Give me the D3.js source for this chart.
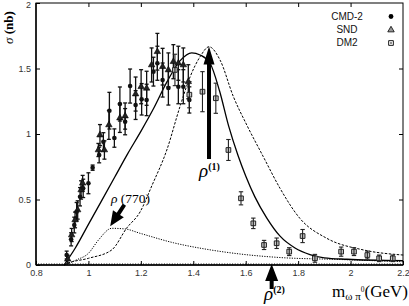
<!DOCTYPE html>
<html><head><meta charset="utf-8">
<script src="https://cdn.jsdelivr.net/npm/d3@7"></script>
<style>body{margin:0;background:#fff}svg{display:block}</style>
</head><body>
<script>
// ---- data ----
const xTicks = [0.8, 1, 1.2, 1.4, 1.6, 1.8, 2, 2.2];
const xTickLabels = ["0.8", "1", "1.2", "1.4", "1.6", "1.8", "2", "2.2"];
const yTicks = [0, 0.5, 1, 1.5, 2];
const yTickLabels = ["0", "0.5", "1", "1.5", "2"];
const legendLabels = ["CMD-2", "SND", "DM2"];

// [m (GeV), sigma (nb), error]
const cmd2 = [
  [0.917,0.076,0.03],[0.934,0.196,0.05],[0.946,0.305,0.06],[0.955,0.407,0.07],
  [0.968,0.521,0.07],[0.980,0.585,0.07],[1.000,0.624,0.08],[1.016,0.743,0.02],
  [1.041,0.840,0.06],[1.057,0.940,0.07],[1.080,1.178,0.14],[1.099,0.969,0.07],
  [1.120,1.229,0.13],[1.140,1.094,0.10],[1.159,1.366,0.13],[1.180,1.221,0.11],
  [1.203,1.265,0.12],[1.222,1.260,0.12],[1.248,1.476,0.11],[1.263,1.540,0.13],
  [1.283,1.412,0.13],[1.305,1.351,0.13],[1.343,1.361,0.13],[1.362,1.361,0.13],
  [1.385,1.260,0.10]
];
const snd = [
  [0.921,0.044,0.03],[0.936,0.229,0.05],[0.949,0.344,0.06],[0.959,0.420,0.07],
  [0.972,0.573,0.07],[0.978,0.624,0.06],[1.038,0.878,0.05],[1.061,0.878,0.07],
  [1.044,0.992,0.08],[1.078,1.069,0.11],[1.120,1.122,0.11],[1.140,1.137,0.10],
  [1.180,1.305,0.13],[1.201,1.361,0.13],[1.222,1.349,0.13],[1.241,1.527,0.13],
  [1.263,1.628,0.14],[1.283,1.514,0.14],[1.305,1.489,0.13],[1.324,1.552,0.13],
  [1.343,1.540,0.13],[1.362,1.527,0.13],[1.381,1.399,0.13]
];
const dm2 = [
  [1.330,1.489,0.12],[1.385,1.300,0.10],[1.435,1.323,0.153],[1.486,1.273,0.115],
  [1.534,0.878,0.08],[1.582,0.509,0.05],[1.629,0.318,0.04],[1.670,0.153,0.035],
  [1.718,0.166,0.04],[1.766,0.102,0.03],[1.817,0.221,0.05],[1.864,0.051,0.03],
  [1.964,0.102,0.035],[2.013,0.102,0.03],[2.064,0.076,0.03],[2.109,0.051,0.025],
  [2.161,0.051,0.025]
];

// model curves [m, sigma]
const solidCurve = [
  [0.907,0],[0.95,0.13],[1.0,0.31],[1.05,0.49],[1.1,0.67],[1.15,0.85],[1.2,1.02],
  [1.25,1.2],[1.3,1.4],[1.35,1.56],[1.394,1.62],[1.426,1.603],
  [1.464,1.54],[1.5,1.33],[1.535,1.06],[1.57,0.84],[1.6,0.68],[1.635,0.52],
  [1.68,0.36],[1.731,0.22],[1.788,0.13],[1.845,0.08],[1.9,0.055],[1.986,0.044],[2.2,0.033]
];
const dashedCurve = [
  [0.907,0],[0.921,0.013],[1.000,0.051],[1.089,0.115],[1.146,0.282],[1.197,0.405],
  [1.243,0.61],[1.299,0.878],[1.349,1.208],[1.388,1.437],[1.426,1.59],[1.460,1.666],
  [1.502,1.565],[1.553,1.285],[1.604,1.069],[1.667,0.827],[1.731,0.585],[1.807,0.355],
  [1.909,0.204],[2.049,0.115],[2.201,0.076]
];
const rho770Curve = [
  [0.907,0],[0.953,0.038],[1.000,0.089],[1.038,0.19],[1.089,0.28],[1.140,0.275],
  [1.197,0.242],[1.324,0.17],[1.451,0.12],[1.578,0.084],[1.731,0.057],[1.960,0.042],
  [2.200,0.025]
];

// ---- layout ----
const W = 409, H = 306;
const x = d3.scaleLinear().domain([0.8, 2.2]).range([36, 403]);
const y = d3.scaleLinear().domain([0, 2]).range([265, 3]);

const svg = d3.select("body").append("svg").attr("width", W).attr("height", H);
const sans = "Liberation Sans, Arial, sans-serif";
const serif = "Liberation Serif, Times New Roman, serif";

// frame
svg.append("rect").attr("x", x(0.8)).attr("y", y(2)).attr("width", x(2.2)-x(0.8)).attr("height", y(0)-y(2))
  .attr("fill", "none").attr("stroke", "#000").attr("stroke-width", 1);

function styleAxis(g) {
  g.select(".domain").remove();
  g.selectAll(".tick line").attr("stroke", "#000");
  g.selectAll("text").attr("font-family", sans).attr("font-size", 9).attr("fill", "#333");
}
// bottom axis
svg.append("g").attr("transform", `translate(0,${y(0)})`)
  .call(d3.axisBottom(x).tickValues(xTicks).tickFormat((d,i)=>xTickLabels[i]).tickSizeInner(-4).tickSizeOuter(0).tickPadding(5))
  .call(styleAxis);
// minor ticks on bottom axis
svg.append("g").selectAll("line").data(d3.range(81, 220).map(v=>v/100)).join("line")
  .attr("x1", d=>x(d)).attr("x2", d=>x(d)).attr("y1", y(0)).attr("y2", y(0)-1.8)
  .attr("stroke", "#000").attr("stroke-width", 0.6);
svg.append("line").attr("x1", x(0.8)).attr("x2", x(2.2)).attr("y1", y(0)).attr("y2", y(0)).attr("stroke","#000").attr("stroke-width",1.6);
// top axis
svg.append("g").attr("transform", `translate(0,${y(2)})`)
  .call(d3.axisTop(x).tickValues(xTicks.slice(1,-1)).tickFormat("").tickSizeInner(-4).tickSizeOuter(0))
  .call(styleAxis);
// left axis
const leftAx = svg.append("g").attr("transform", `translate(${x(0.8)},0)`)
  .call(d3.axisLeft(y).tickValues(yTicks).tickFormat((d,i)=>yTickLabels[i]).tickSizeInner(-4).tickSizeOuter(0).tickPadding(5))
  .call(styleAxis);
leftAx.selectAll(".tick text").filter(d=>d===2).attr("dy","0.72em").attr("y",-1.5);
svg.append("line").attr("x1", x(0.8)).attr("x2", x(0.8)).attr("y1", y(0)).attr("y2", y(2)).attr("stroke","#000").attr("stroke-width",1.4);
// right axis
svg.append("g").attr("transform", `translate(${x(2.2)},0)`)
  .call(d3.axisRight(y).tickValues(yTicks.slice(1,-1)).tickFormat("").tickSizeInner(-4).tickSizeOuter(0))
  .call(styleAxis);

// curves
const line = d3.line().x(d=>x(d[0])).y(d=>y(d[1])).curve(d3.curveMonotoneX);
svg.append("path").attr("d", line(rho770Curve)).attr("fill","none").attr("stroke","#000")
  .attr("stroke-width",1).attr("stroke-dasharray","1.2,1.3");
svg.append("path").attr("d", line(dashedCurve)).attr("fill","none").attr("stroke","#000")
  .attr("stroke-width",1).attr("stroke-dasharray","2.5,1.5");
svg.append("path").attr("d", line(solidCurve)).attr("fill","none").attr("stroke","#000")
  .attr("stroke-width",1.3);

// error bars
function errBars(data, cap, color, sw) {
  const g = svg.append("g").attr("stroke", color).attr("stroke-width", sw).attr("fill","none");
  data.forEach(d => {
    const xx = x(d[0]), y1 = y(d[1]-d[2]), y2 = y(d[1]+d[2]);
    g.append("line").attr("x1",xx).attr("x2",xx).attr("y1",y1).attr("y2",y2);
    g.append("line").attr("x1",xx-cap).attr("x2",xx+cap).attr("y1",y1).attr("y2",y1);
    g.append("line").attr("x1",xx-cap).attr("x2",xx+cap).attr("y1",y2).attr("y2",y2);
  });
}
errBars(cmd2, 2, "#111", 1.3);
errBars(snd, 2, "#111", 1.3);

const tri = d3.symbol().type(d3.symbolTriangle).size(18);
const sq = d3.symbol().type(d3.symbolSquare).size(22);
svg.append("g").selectAll("path").data(snd).join("path")
  .attr("transform", d=>`translate(${x(d[0])},${y(d[1])})`).attr("d", tri())
  .attr("fill","#222").attr("stroke","#000").attr("stroke-width",0.6);
svg.append("g").selectAll("circle").data(cmd2).join("circle")
  .attr("cx", d=>x(d[0])).attr("cy", d=>y(d[1])).attr("r", 2.3).attr("fill","#111");
svg.append("g").selectAll("path").data(dm2).join("path")
  .attr("transform", d=>`translate(${x(d[0])},${y(d[1])})`).attr("d", sq())
  .attr("fill","#c8c8c8").attr("stroke","#222").attr("stroke-width",1);
errBars(dm2, 2.2, "#222", 1.1);

// legend
const lg = svg.append("g");
legendLabels.forEach((t,i)=>{
  lg.append("text").attr("x", 347).attr("y", 20 + i*12.8).attr("text-anchor","middle")
    .attr("font-family", sans).attr("font-size", 10).attr("fill","#111").text(t);
});
lg.append("circle").attr("cx",391).attr("cy",16.5).attr("r",2.4).attr("fill","#000");
lg.append("path").attr("transform","translate(391,30)").attr("d", d3.symbol().type(d3.symbolTriangle).size(18)())
  .attr("fill","#999").attr("stroke","#000").attr("stroke-width",0.8);
lg.append("path").attr("transform","translate(391,43)").attr("d", d3.symbol().type(d3.symbolSquare).size(22)())
  .attr("fill","#fff").attr("stroke","#000").attr("stroke-width",0.9);
lg.append("circle").attr("cx",391).attr("cy",43).attr("r",0.8).attr("fill","#000");

// arrows
function arrow(x0, y0, x1, y1, shaftW, headL, headW) {
  const dx = x1-x0, dy = y1-y0, L = Math.hypot(dx,dy);
  const ux = dx/L, uy = dy/L, nx = -uy, ny = ux;
  const bx = x1 - ux*headL, by = y1 - uy*headL;
  const pts = [
    [x0+nx*shaftW/2, y0+ny*shaftW/2], [bx+nx*shaftW/2, by+ny*shaftW/2],
    [bx+nx*headW/2, by+ny*headW/2], [x1, y1],
    [bx-nx*headW/2, by-ny*headW/2], [bx-nx*shaftW/2, by-ny*shaftW/2],
    [x0-nx*shaftW/2, y0-ny*shaftW/2]
  ];
  svg.append("path").attr("d", "M" + pts.map(p=>p.join(",")).join("L") + "Z").attr("fill","#000");
}
arrow(x(1.46), y(0.81), x(1.46), y(1.668), 4, 18, 11);
arrow(x(1.137), y(0.46), x(1.083), y(0.295), 4, 15, 13);
arrow(x(1.699), 289, x(1.699), y(0)-1, 4, 17, 13);

// annotation texts
svg.append("text").attr("x", 111).attr("y", 203).attr("font-family", serif).attr("font-size", 13.5).attr("fill","#000")
  .html('<tspan font-style="italic">ρ</tspan> (770)');
svg.append("text").attr("x", 199).attr("y", 177).attr("font-family", serif).attr("font-size", 19).attr("fill","#000")
  .html('<tspan font-style="italic">ρ</tspan><tspan font-size="10" font-weight="bold" dy="-7">(1)</tspan>');
svg.append("text").attr("x", 264).attr("y", 300).attr("font-family", serif).attr("font-size", 19).attr("fill","#000")
  .html('<tspan font-style="italic">ρ</tspan><tspan font-size="10" font-weight="bold" dy="-7">(2)</tspan>');

// axis titles
svg.append("text").attr("transform","translate(13,44) rotate(-90)").attr("font-family", serif)
  .attr("font-size", 13).attr("font-weight","bold").attr("fill","#000")
  .html('<tspan font-style="italic" font-weight="normal">σ</tspan> (nb)');
svg.append("text").attr("x", 408).attr("y", 297).attr("text-anchor","end").attr("font-family", serif)
  .attr("font-size", 17).attr("fill","#000")
  .html('m<tspan font-size="11" dy="3">ω π</tspan><tspan font-size="7.5" dy="-8">0</tspan><tspan dy="5">(GeV)</tspan>');
</script>
</body></html>
